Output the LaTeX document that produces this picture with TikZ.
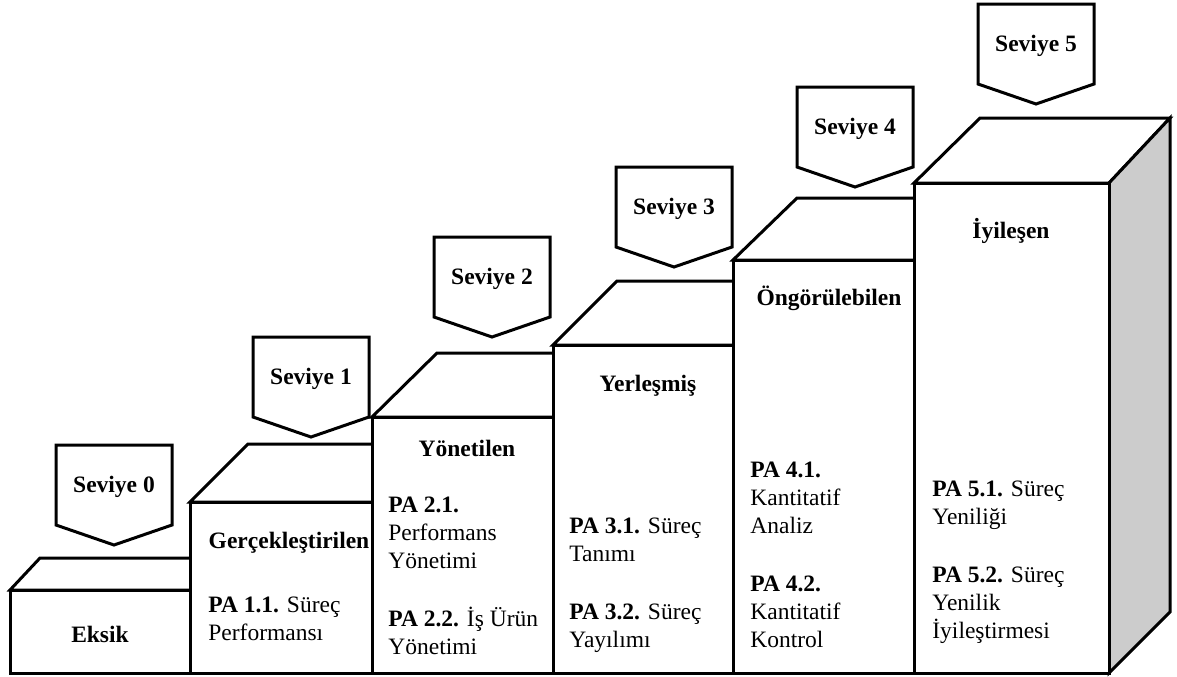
\documentclass[tikz,border=0pt]{standalone}
\usepackage{fontspec}
\setmainfont{Liberation Serif}

\begin{document}
\begin{tikzpicture}[x=0.5pt, y=-0.5pt,
    basamak/.style={line width=1.5pt, fill=white},
    etiket/.style={line width=1.5pt, fill=white},
    yazi/.style={font=\fontsize{11.75}{14}\selectfont, inner sep=0pt},
    baslik/.style={yazi, font=\fontsize{11.75}{14}\selectfont\bfseries, anchor=base},
    madde/.style={yazi, align=left, anchor=base west}]
    \useasboundingbox (0,0) rectangle (1177,676);

    % Eksik
    \draw[basamak] (10,590) -- (40,558) -- (220,558) -- (190,590) -- cycle;
    \draw[basamak] (10,590) rectangle (190,673);
    \node[baslik] (eksik) at (100,642) {Eksik};

    % Gerçekleştirilen
    \draw[basamak] (190,502) -- (248,444) -- (430,444) -- (372,502) -- cycle;
    \draw[basamak] (190,502) rectangle (372,673);
    \node[baslik] (gercek) at (289,548) {Gerçekleştirilen};
    \node[madde] (pa1) at (208,640) {\textbf{PA 1.1.} Süreç\\Performansı};

    % Yönetilen
    \draw[basamak] (372,417) -- (437,353) -- (618,353) -- (553,417) -- cycle;
    \draw[basamak] (372,417) rectangle (553,673);
    \node[baslik] (yonet) at (467,456) {Yönetilen};
    \node[madde] (pa2) at (388,654) {\textbf{PA 2.1.}\\Performans\\Yönetimi\\[15pt]\textbf{PA 2.2.} İş Ürün\\Yönetimi};

    % Yerleşmiş
    \draw[basamak] (553,345) -- (617,281) -- (797,281) -- (733,345) -- cycle;
    \draw[basamak] (553,345) rectangle (733,673);
    \node[baslik] (yerles) at (648,391) {Yerleşmiş};
    \node[madde] (pa3) at (569,647) {\textbf{PA 3.1.} Süreç\\Tanımı\\[15pt]\textbf{PA 3.2.} Süreç\\Yayılımı};

    % Öngörülebilen
    \draw[basamak] (733,260) -- (797,198) -- (978,198) -- (914,260) -- cycle;
    \draw[basamak] (733,260) rectangle (914,673);
    \node[baslik] (ongor) at (829,305) {Öngörülebilen};
    \node[madde] (pa4) at (750,647) {\textbf{PA 4.1.}\\Kantitatif\\Analiz\\[15pt]\textbf{PA 4.2.}\\Kantitatif\\Kontrol};

    % İyileşen (yan yüz gri)
    \draw[basamak] (914,183) -- (980,118) -- (1170,118) -- (1109,183) -- cycle;
    \draw[basamak, fill=black!20] (1109,183) -- (1170,118) -- (1170,612) -- (1109,673) -- cycle;
    \draw[basamak] (914,183) rectangle (1109,673);
    \node[baslik] (iyiles) at (1011,238) {İyileşen};
    \node[madde] (pa5) at (932,638) {\textbf{PA 5.1.} Süreç\\Yeniliği\\[15pt]\textbf{PA 5.2.} Süreç\\Yenilik\\İyileştirmesi};

    % Seviye etiketleri
    \draw[etiket] (56,445) -- (172,445) -- (172,525) -- (114,545) -- (56,525) -- cycle;
    \node[baslik] (s0) at (114,492) {Seviye 0};
    \draw[etiket] (253,337) -- (369,337) -- (369,417) -- (311,437) -- (253,417) -- cycle;
    \node[baslik] (s1) at (311,384) {Seviye 1};
    \draw[etiket] (434,237) -- (550,237) -- (550,317) -- (492,337) -- (434,317) -- cycle;
    \node[baslik] (s2) at (492,284) {Seviye 2};
    \draw[etiket] (616,167) -- (732,167) -- (732,247) -- (674,267) -- (616,247) -- cycle;
    \node[baslik] (s3) at (674,214) {Seviye 3};
    \draw[etiket] (797,87) -- (913,87) -- (913,167) -- (855,187) -- (797,167) -- cycle;
    \node[baslik] (s4) at (855,134) {Seviye 4};
    \draw[etiket] (978,4) -- (1094,4) -- (1094,84) -- (1036,104) -- (978,84) -- cycle;
    \node[baslik] (s5) at (1036,51) {Seviye 5};
\end{tikzpicture}
\end{document}
